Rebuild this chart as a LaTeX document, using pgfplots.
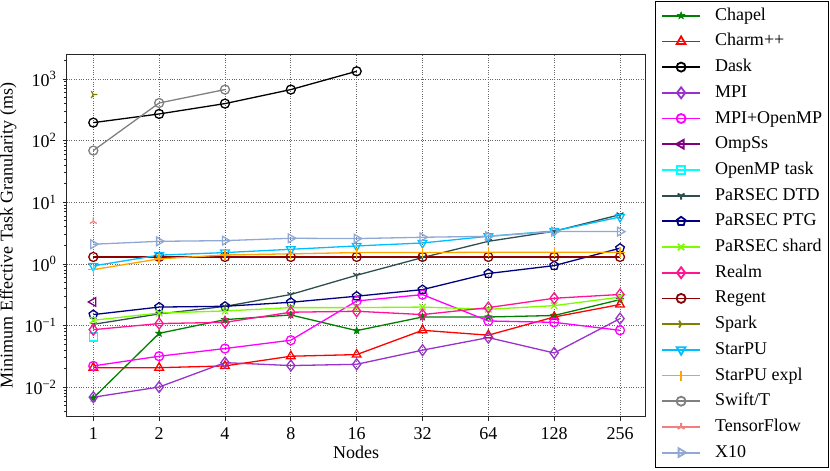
\documentclass[border=0pt]{standalone}
\usepackage{fontspec}
\setmainfont{Liberation Serif}
\usepackage{pgfplots}
\pgfplotsset{compat=1.18}
\usetikzlibrary{plotmarks}
\definecolor{cChapel}{HTML}{008000}
\definecolor{cCharm}{HTML}{FF0000}
\definecolor{cDask}{HTML}{000000}
\definecolor{cMPI}{HTML}{9932CC}
\definecolor{cMPIOMP}{HTML}{FF00FF}
\definecolor{cOmpSs}{HTML}{800080}
\definecolor{cOMPT}{HTML}{00FFFF}
\definecolor{cDTD}{HTML}{2F4F4F}
\definecolor{cPTG}{HTML}{000080}
\definecolor{cShard}{HTML}{7CFC00}
\definecolor{cRealm}{HTML}{FF1493}
\definecolor{cRegent}{HTML}{8B0000}
\definecolor{cSpark}{HTML}{808000}
\definecolor{cStarPU}{HTML}{00BFFF}
\definecolor{cStarX}{HTML}{FFA500}
\definecolor{cSwift}{HTML}{808080}
\definecolor{cTF}{HTML}{F08080}
\definecolor{cX10}{HTML}{8FA8D4}
\pgfdeclareplotmark{fstar}{%
  \pgfpathmoveto{\pgfpointpolar{90}{\pgfplotmarksize}}%
  \pgfpathlineto{\pgfpointpolar{126}{0.42\pgfplotmarksize}}%
  \pgfpathlineto{\pgfpointpolar{162}{\pgfplotmarksize}}%
  \pgfpathlineto{\pgfpointpolar{198}{0.42\pgfplotmarksize}}%
  \pgfpathlineto{\pgfpointpolar{234}{\pgfplotmarksize}}%
  \pgfpathlineto{\pgfpointpolar{270}{0.42\pgfplotmarksize}}%
  \pgfpathlineto{\pgfpointpolar{306}{\pgfplotmarksize}}%
  \pgfpathlineto{\pgfpointpolar{342}{0.42\pgfplotmarksize}}%
  \pgfpathlineto{\pgfpointpolar{18}{\pgfplotmarksize}}%
  \pgfpathlineto{\pgfpointpolar{54}{0.42\pgfplotmarksize}}%
  \pgfpathclose\pgfusepathqfillstroke}
\begin{document}
\fontsize{18bp}{21bp}\selectfont
\begin{tikzpicture}
\begin{axis}[
  at={(0,0)}, anchor=south west,
  scale only axis, width=579bp, height=362.2bp,
  ymode=log, log basis y=10,
  xmin=-0.404, xmax=8.39,
  ymin=0.003334, ymax=2495,
  xtick={0,...,8}, xticklabels={1,2,4,8,16,32,64,128,256},
  ytick={0.01,0.1,1,10,100,1000},
  yticklabels={10\textsuperscript{−2},10\textsuperscript{−1},10\textsuperscript{0},10\textsuperscript{1},10\textsuperscript{2},10\textsuperscript{3}},
  minor ytick={0.004,0.005,0.006,0.007,0.008,0.009,0.02,0.03,0.04,0.05,0.06,0.07,0.08,0.09,0.2,0.3,0.4,0.5,0.6,0.7,0.8,0.9,2,3,4,5,6,7,8,9,20,30,40,50,60,70,80,90,200,300,400,500,600,700,800,900,2000},
  tick align=outside, major tick length=4bp, minor tick length=2.5bp,
  tick style={black!85, line width=0.8bp},
  xtick pos=bottom, ytick pos=left,
  axis line style={black!85, line width=1.5bp},
  grid=major, major grid style={dotted, black!60, line width=0.9bp},
  xticklabel style={yshift=-1bp},
  xlabel={Nodes}, ylabel={Minimum Effective Task Granularity (ms)},
  xlabel style={yshift=6bp},
  ylabel style={yshift=-4bp},
  every axis plot/.append style={line width=1.3bp, mark size=4.5bp},
  legend image code/.code={\draw[mark repeat=2,mark phase=2,line width=1.8bp,#1] plot coordinates {(0bp,0bp)(19bp,0bp)(38bp,0bp)};},
  legend cell align=left,
  legend style={at={(1,1)}, anchor=north west, xshift=9.3bp, yshift=53.5bp,
    draw=black, inner xsep=6bp, inner ysep=6bp, row sep=8.7bp, column sep=0bp,
    nodes={inner sep=0pt, text height=13bp, text depth=4bp, anchor=west},
    /tikz/every odd column/.append style={column sep=14bp}},
]
\addplot[cChapel, mark=fstar, mark size=3.8bp, mark options={fill=cChapel, line width=0.6bp}] coordinates {(0,0.0067)(1,0.075)(2,0.125)(3,0.149)(4,0.083)(5,0.138)(6,0.138)(7,0.146)(8,0.264)};
\addlegendentry{Chapel}
\addplot[cCharm, mark=triangle, mark size=5bp] coordinates {(0,0.0208)(1,0.0208)(2,0.0222)(3,0.0319)(4,0.0339)(5,0.084)(6,0.070)(7,0.138)(8,0.22)};
\addlegendentry{Charm++}
\addplot[cDask, mark=o] coordinates {(0,196)(1,271)(2,399)(3,673)(4,1334)};
\addlegendentry{Dask}
\addplot[cMPI, mark=diamond, mark size=5.5bp] coordinates {(0,0.0069)(1,0.0101)(2,0.0251)(3,0.0225)(4,0.0236)(5,0.040)(6,0.064)(7,0.036)(8,0.13)};
\addlegendentry{MPI}
\addplot[cMPIOMP, mark=o] coordinates {(0,0.0222)(1,0.0319)(2,0.0425)(3,0.058)(4,0.251)(5,0.318)(6,0.119)(7,0.113)(8,0.084)};
\addlegendentry{MPI+OpenMP}
\addplot[cOmpSs, mark=triangle, mark size=5bp, mark options={rotate=90}] coordinates {(0,0.242)};
\addlegendentry{OmpSs}
\addplot[cOMPT, mark=square, mark size=4bp] coordinates {(0,0.0655)};
\addlegendentry{OpenMP task}
\addplot[cDTD, mark=Mercedes star flipped, mark size=4bp] coordinates {(0,0.105)(1,0.155)(2,0.205)(3,0.32)(4,0.656)(5,1.27)(6,2.33)(7,3.39)(8,6.3)};
\addlegendentry{PaRSEC DTD}
\addplot[cPTG, mark=pentagon, mark size=4.5bp] coordinates {(0,0.151)(1,0.20)(2,0.206)(3,0.239)(4,0.30)(5,0.384)(6,0.70)(7,0.94)(8,1.80)};
\addlegendentry{PaRSEC PTG}
\addplot[cShard, mark=x, mark size=4.5bp] coordinates {(0,0.122)(1,0.16)(2,0.173)(3,0.196)(4,0.196)(5,0.20)(6,0.184)(7,0.211)(8,0.29)};
\addlegendentry{PaRSEC shard}
\addplot[cRealm, mark=diamond, mark size=5.5bp] coordinates {(0,0.086)(1,0.108)(2,0.113)(3,0.165)(4,0.171)(5,0.151)(6,0.196)(7,0.278)(8,0.32)};
\addlegendentry{Realm}
\addplot[cRegent, mark=o] coordinates {(0,1.30)(1,1.30)(2,1.30)(3,1.30)(4,1.30)(5,1.30)(6,1.30)(7,1.30)(8,1.30)};
\addlegendentry{Regent}
\addplot[cSpark, mark=Mercedes star, mark size=4bp, mark options={rotate=-90}] coordinates {(0,559)};
\addlegendentry{Spark}
\addplot[cStarPU, mark=triangle, mark size=5bp, mark options={rotate=180}] coordinates {(0,0.93)(1,1.39)(2,1.53)(3,1.73)(4,1.96)(5,2.19)(6,2.81)(7,3.43)(8,5.78)};
\addlegendentry{StarPU}
\addplot[cStarX, mark=+, mark size=5bp] coordinates {(0,0.81)(1,1.21)(2,1.40)(3,1.46)(4,1.53)(5,1.53)(6,1.55)(7,1.55)(8,1.55)};
\addlegendentry{StarPU expl}
\addplot[cSwift, mark=o] coordinates {(0,69)(1,408)(2,673)};
\addlegendentry{Swift/T}
\addplot[cTF, mark=Mercedes star, mark size=4bp] coordinates {(0,4.9)};
\addlegendentry{TensorFlow}
\addplot[cX10, mark=triangle, mark size=5bp, mark options={rotate=-90}] coordinates {(0,2.09)(1,2.33)(2,2.39)(3,2.61)(4,2.58)(5,2.71)(6,2.81)(7,3.35)(8,3.35)};
\addlegendentry{X10}
\end{axis}
\pgfresetboundingbox
\path[use as bounding box] (-66.7bp,-54.3bp) rectangle (763.3bp,416.7bp);
\end{tikzpicture}
\end{document}
